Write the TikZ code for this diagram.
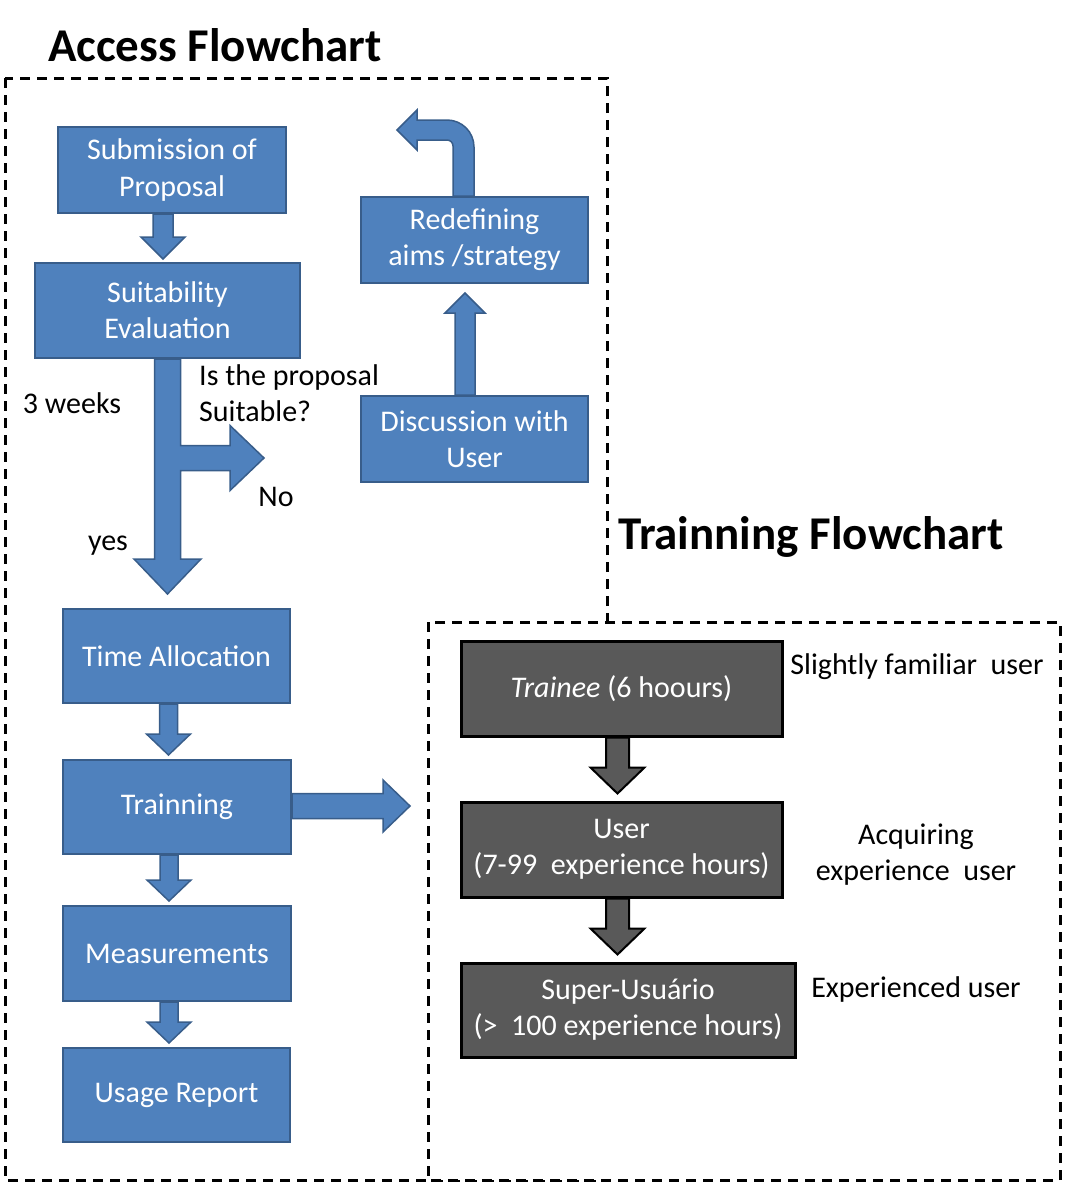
\documentclass[tikz,border=0pt]{standalone}
\usepackage{fontspec}
\setmainfont{Carlito}
\usetikzlibrary{calc}
\definecolor{bfill}{HTML}{4F81BD}
\definecolor{bline}{HTML}{385D8A}
\definecolor{gfill}{HTML}{595959}
\tikzset{
  txt/.style={font=\fontsize{30}{36}\selectfont, align=center, inner sep=0pt},
  bluebox/.style={txt, draw=bline, line width=2pt, fill=bfill, text=white},
  graybox/.style={txt, draw=black, line width=3pt, fill=gfill, text=white},
  bluearrow/.style={draw=bline, fill=bfill, line width=1.5pt, line join=miter},
  grayarrow/.style={draw=black, fill=gfill, line width=2pt, line join=miter},
  lbl/.style={txt, text=black},
  ttl/.style={font=\fontsize{47}{50}\selectfont\bfseries, inner sep=0pt},
  frame/.style={draw=black, dash pattern=on 10pt off 7pt, line width=3pt}
}
% #1 style, #2 start point, #3 tip point, #4 half shaft, #5 half head, #6 head length
\newcommand{\blockdown}[6]{%
  \path[#1] let \p1=#2, \p2=#3 in
    ({\x1-#4},{\y1}) -- ({\x1-#4},{\y2+#6}) -- ({\x1-#5},{\y2+#6}) -- ({\x1},{\y2})
    -- ({\x1+#5},{\y2+#6}) -- ({\x1+#4},{\y2+#6}) -- ({\x1+#4},{\y1}) -- cycle;}
\newcommand{\blockup}[6]{%
  \path[#1] let \p1=#2, \p2=#3 in
    ({\x1-#4},{\y1}) -- ({\x1-#4},{\y2-#6}) -- ({\x1-#5},{\y2-#6}) -- ({\x1},{\y2})
    -- ({\x1+#5},{\y2-#6}) -- ({\x1+#4},{\y2-#6}) -- ({\x1+#4},{\y1}) -- cycle;}
\newcommand{\blockright}[6]{%
  \path[#1] let \p1=#2, \p2=#3 in
    ({\x1},{\y2+#4}) -- ({\x2-#6},{\y2+#4}) -- ({\x2-#6},{\y2+#5}) -- ({\x2},{\y2})
    -- ({\x2-#6},{\y2-#5}) -- ({\x2-#6},{\y2-#4}) -- ({\x1},{\y2-#4}) -- cycle;}
\begin{document}
\begin{tikzpicture}[x=1pt,y=-1pt]
\useasboundingbox (0,0) rectangle (1067,1183);
% frames
\path[frame] (5,78) rectangle (607,1180);
\path[frame, fill=white] (428,622) rectangle (1060,1180);
% titles
\node[ttl, anchor=west] (t1) at (48,45) {Access Flowchart};
\node[ttl, anchor=west] (t2) at (618,537) {Trainning Flowchart};
% blue boxes
\node[bluebox, minimum width=228pt, minimum height=86pt] (sub) at (172,170) {Submission of\\Proposal};
\node[bluebox, minimum width=265pt, minimum height=95pt] (suit) at (167.5,310.5) {Suitability\\Evaluation};
\node[bluebox, minimum width=227pt, minimum height=94pt] (time) at (176.5,656) {Time Allocation};
\node[bluebox, minimum width=228pt, minimum height=94pt] (trn) at (177,807) {Trainning};
\node[bluebox, minimum width=228pt, minimum height=95pt] (meas) at (177,953.5) {Measurements};
\node[bluebox, minimum width=227pt, minimum height=94pt] (usage) at (176.5,1095) {Usage Report};
\node[bluebox, minimum width=227pt, minimum height=86pt] (disc) at (474.5,439) {Discussion with\\User};
\node[bluebox, minimum width=227pt, minimum height=86pt] (redef) at (474.5,240) {Redefining\\aims /strategy};
% gray boxes
\node[graybox, minimum width=321pt, minimum height=95pt] (trainee) at (621.5,688.5) {\textit{Trainee} (6 hoours)};
\node[graybox, minimum width=321pt, minimum height=95pt] (user) at (621.5,849.5) {User\\(7-99\ \ experience hours)};
\node[graybox, minimum width=334pt, minimum height=94pt] (super) at (628,1010) {Super-Usuário\\(>\ \ 100 experience hours)};
% labels
\node[lbl] (weeks) at (72,403) {3 weeks};
\node[lbl, align=left, anchor=north west] (q) at (199,364) {Is the proposal\\Suitable?};
\node[lbl] (no) at (276,497) {No};
\node[lbl] (yes) at (108,546) {yes};
\node[lbl] (l1) at (917,667) {Slightly familiar\ \ user};
\node[lbl] (l2) at (916,855) {Acquiring\\experience\ \ user};
\node[lbl] (l3) at (916,989) {Experienced user};
% free arrow ends
\coordinate (notip) at (264,458);
\coordinate (trtip) at (410,806);
\coordinate (backtip) at (397,130);
% blue arrows
\blockdown{bluearrow}{([xshift=-9pt]sub.south)}{([yshift=3pt]suit.north)}{10pt}{22pt}{22pt}
\blockdown{bluearrow}{([xshift=-8pt]time.south)}{([yshift=4pt]trn.north)}{9pt}{22pt}{21pt}
\blockdown{bluearrow}{([xshift=-8pt]trn.south)}{([yshift=4pt]meas.north)}{9pt}{22pt}{21pt}
\blockdown{bluearrow}{([xshift=-8pt]meas.south)}{([yshift=4pt]usage.north)}{9pt}{22pt}{21pt}
\blockup{bluearrow}{([xshift=-9.5pt]disc.north)}{([yshift=-9pt]redef.south)}{10pt}{20pt}{20pt}
\blockright{bluearrow}{(trn.east)}{(trtip)}{12.5pt}{26pt}{27pt}
% fork arrow (suitability decision)
\path[bluearrow] let \p1=(suit.south), \p2=([yshift=14pt]time.north), \p3=(notip) in
  ({\x1-13pt},{\y1}) -- ({\x1-13pt},{\y2+35pt}) -- ({\x1-33.5pt},{\y2+35pt}) -- ({\x1},{\y2})
  -- ({\x1+33.5pt},{\y2+35pt}) -- ({\x1+13pt},{\y2+35pt}) -- ({\x1+13pt},{\y3-12.5pt})
  -- ({\x3-34pt},{\y3-12.5pt}) -- ({\x3-34pt},{\y3-32.5pt}) -- ({\x3},{\y3})
  -- ({\x3-34pt},{\y3+32.5pt}) -- ({\x3-34pt},{\y3+12.5pt}) -- ({\x1+13pt},{\y3+12.5pt})
  -- ({\x1+13pt},{\y1}) -- cycle;
% bent arrow back from redefining
\path[bluearrow] let \p1=([xshift=-11pt]redef.north), \p2=(backtip) in
  ({\x1-10.5pt},{\y1}) -- ({\x1-10.5pt},{\y2-16pt})
  arc[start angle=0, end angle=90, radius=6pt]
  -- ({\x2+20pt},{\y2-10pt}) -- ({\x2+20pt},{\y2-20pt}) -- ({\x2},{\y2})
  -- ({\x2+20pt},{\y2+20pt}) -- ({\x2+20pt},{\y2+10pt}) -- ({\x1-16.5pt},{\y2+10pt})
  arc[start angle=90, end angle=0, radius=27pt]
  -- ({\x1+10.5pt},{\y1}) -- cycle;
% gray arrows
\blockdown{grayarrow}{([xshift=-4pt]trainee.south)}{([yshift=7pt]user.north)}{11.5pt}{27pt}{26pt}
\blockdown{grayarrow}{([xshift=-4pt]user.south)}{([yshift=7pt]super.north)}{11.5pt}{27pt}{26pt}
\end{tikzpicture}
\end{document}
